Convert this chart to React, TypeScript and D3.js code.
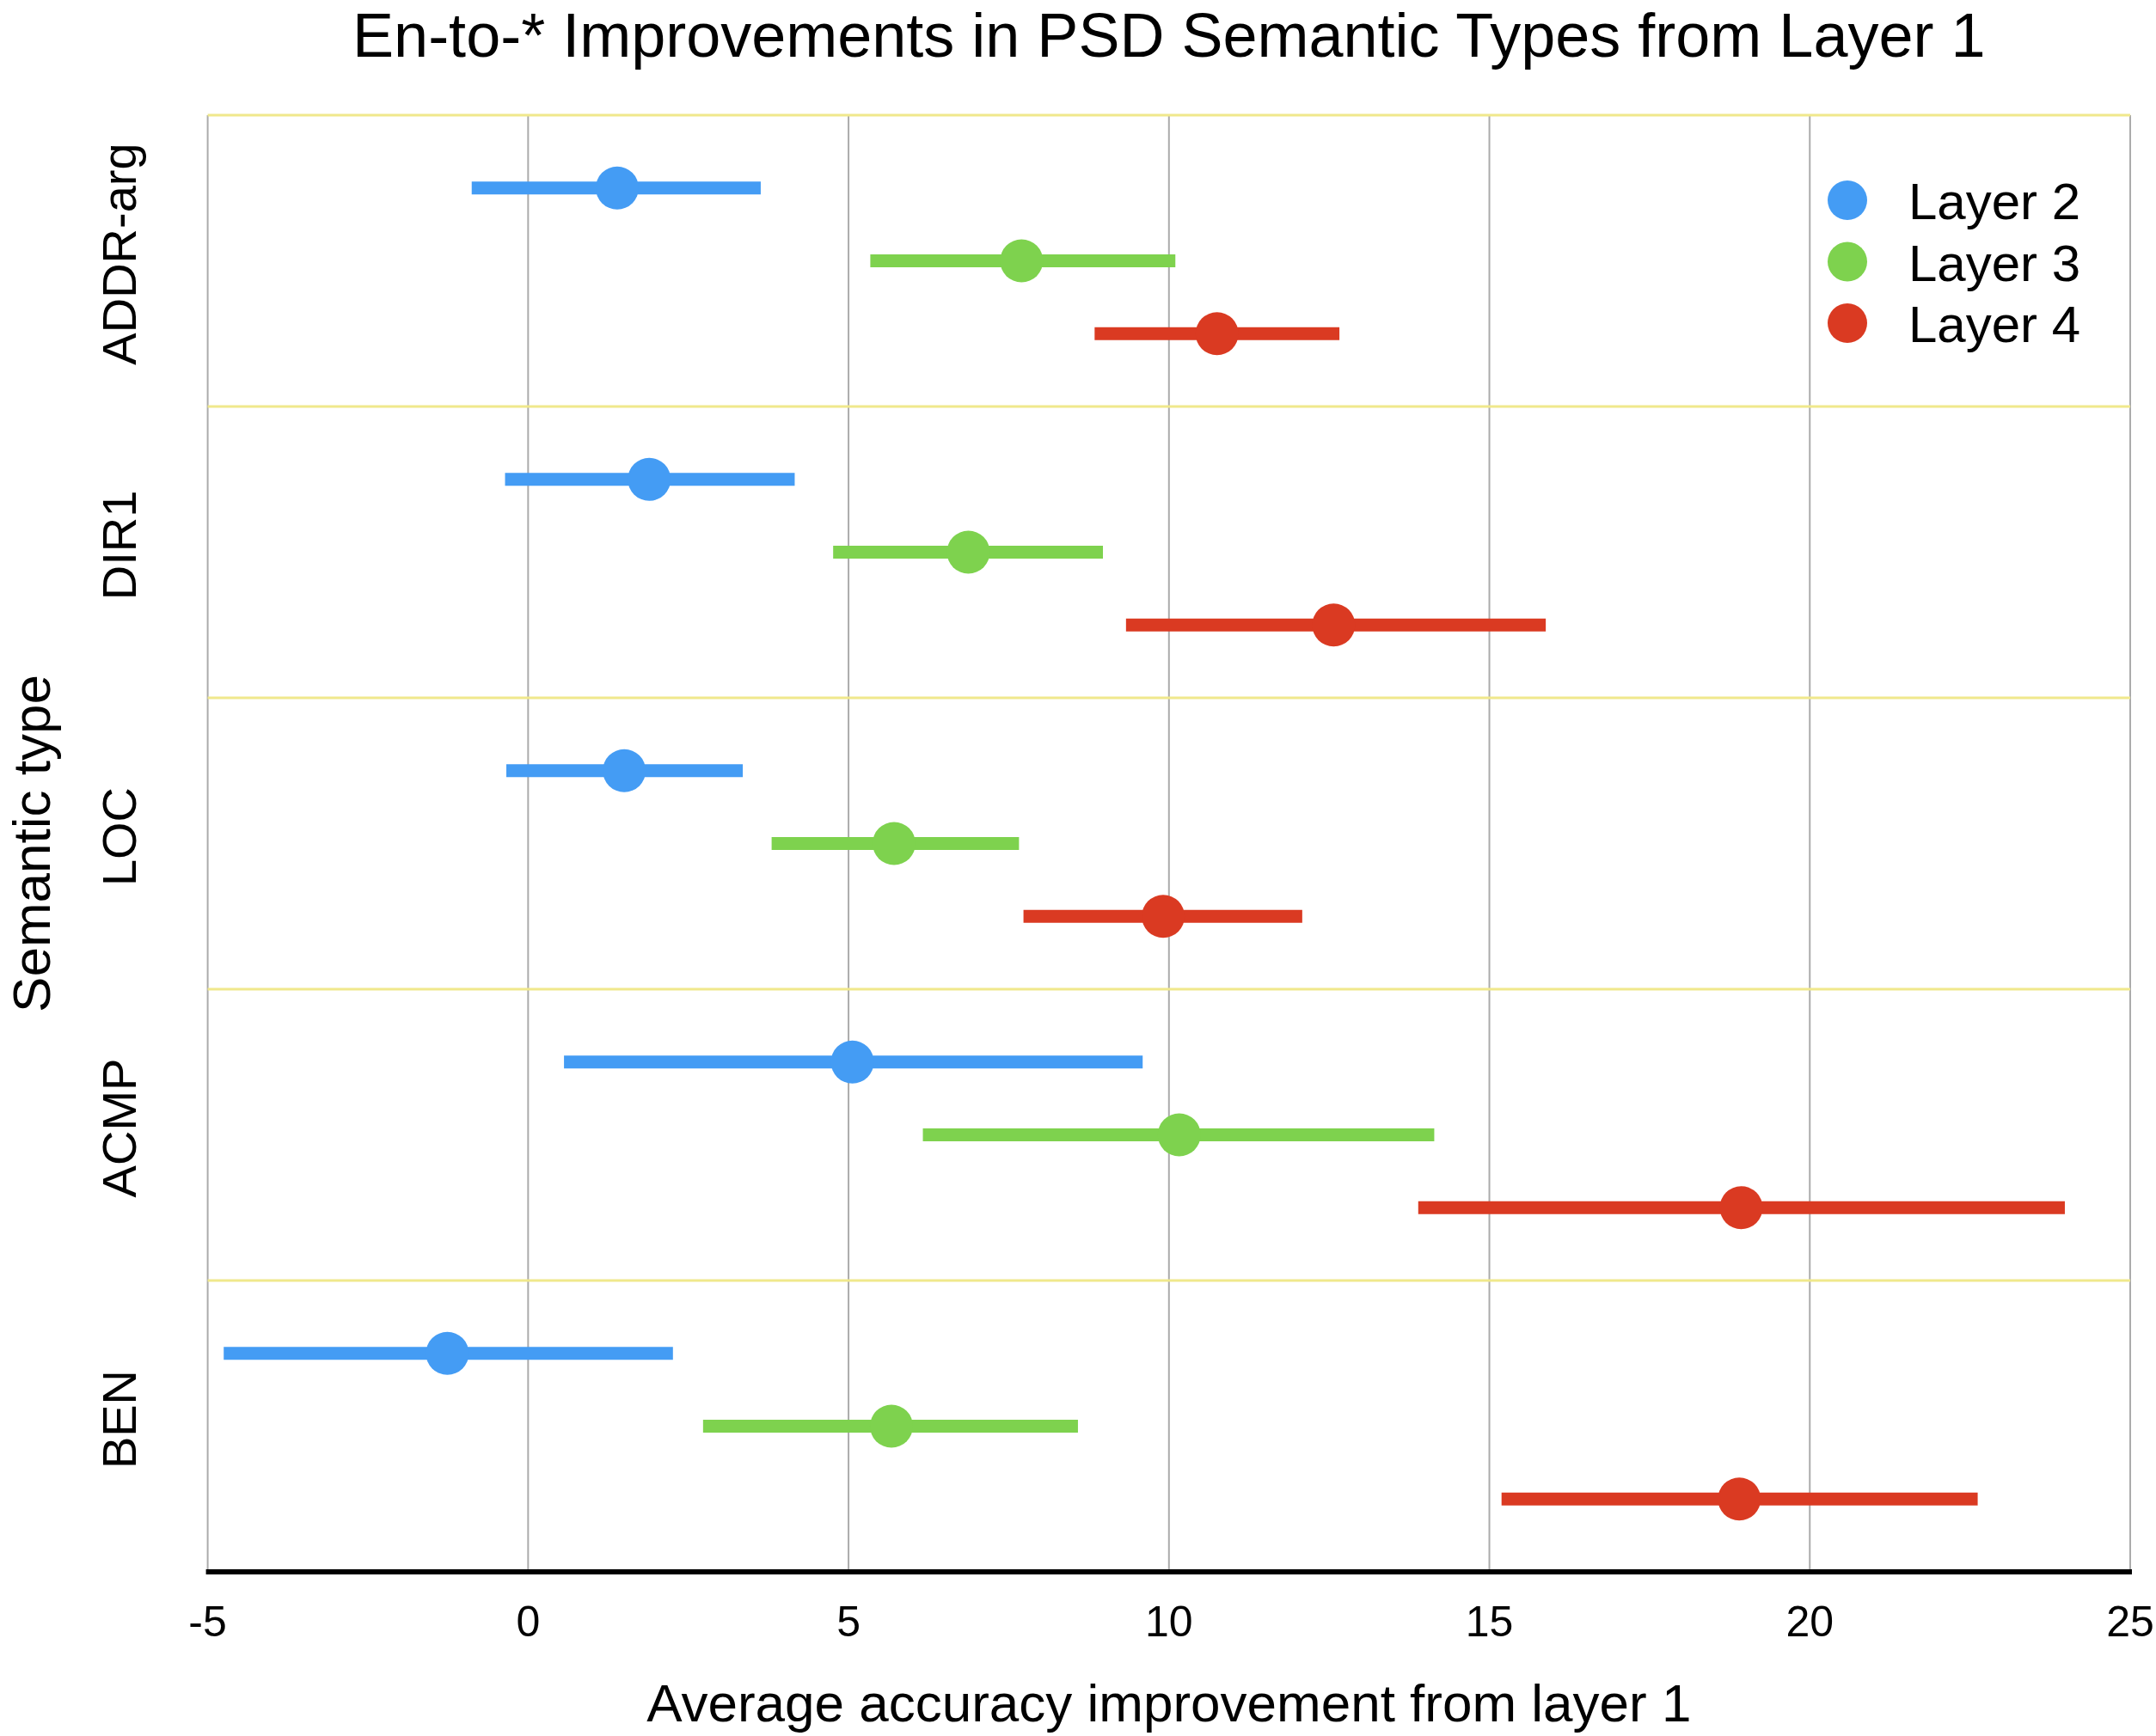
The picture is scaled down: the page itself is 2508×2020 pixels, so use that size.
import React from "react";
import * as d3 from "d3";

const title = "En-to-* Improvements in PSD Semantic Types from Layer 1";
const xAxisTitle = "Average accuracy improvement from layer 1";
const yAxisTitle = "Semantic type";
const categories = ["ADDR-arg", "DIR1", "LOC", "ACMP", "BEN"];
const seriesNames = ["Layer 2", "Layer 3", "Layer 4"];
const seriesColors = ["#449CF4", "#7ED24E", "#DA3A22"];
const xTicks = [-5, 0, 5, 10, 15, 20, 25];

// mean, low, high per category for each layer
const layer2Mean = [1.39, 1.89, 1.5, 5.06, -1.26];
const layer2Low = [-0.88, -0.36, -0.34, 0.56, -4.75];
const layer2High = [3.63, 4.16, 3.35, 9.59, 2.26];

const layer3Mean = [7.7, 6.87, 5.71, 10.16, 5.67];
const layer3Low = [5.34, 4.76, 3.8, 6.16, 2.73];
const layer3High = [10.1, 8.97, 7.66, 14.14, 8.58];

const layer4Mean = [10.75, 12.57, 9.91, 18.93, 18.9];
const layer4Low = [8.84, 9.33, 7.73, 13.89, 15.19];
const layer4High = [12.66, 15.88, 12.08, 23.98, 22.62];

const means = [layer2Mean, layer3Mean, layer4Mean];
const lows = [layer2Low, layer3Low, layer4Low];
const highs = [layer2High, layer3High, layer4High];

const W = 2508;
const H = 2020;
const FONT = "'Liberation Sans', Arial, Helvetica, sans-serif";

export default function App() {
  const left = 241.6;
  const right = 2478;
  const top = 134;
  const bottom = 1829;

  const x = d3.scaleLinear().domain([-5, 25]).range([left, right]);
  const y = d3.scaleBand<string>().domain(categories).range([top, bottom]).padding(0);
  const inner = d3.scalePoint<string>().domain(seriesNames).range([0, y.bandwidth()]).padding(1);

  const boundaries = categories.map((c) => y(c) as number);

  return (
    <svg
      width={W}
      height={H}
      style={{ position: "absolute", left: 0, top: 0, background: "#fff" }}
      fontFamily={FONT}
    >
      <rect x={0} y={0} width={W} height={H} fill="#fff" />
      {/* vertical grid */}
      {xTicks.map((t) => (
        <line key={"g" + t} x1={x(t)} x2={x(t)} y1={top} y2={bottom} stroke="#ababab" strokeWidth={2} />
      ))}
      {/* yellow band separators */}
      {boundaries.map((b, i) => (
        <line key={"b" + i} x1={left} x2={right} y1={b} y2={b} stroke="#F0E88C" strokeWidth={3} />
      ))}
      {/* x axis */}
      <line x1={left - 2} x2={right + 2} y1={bottom} y2={bottom} stroke="#000" strokeWidth={6} />
      {xTicks.map((t) => (
        <text key={"t" + t} x={x(t)} y={1904} textAnchor="middle" fontSize={50} fill="#000">
          {t}
        </text>
      ))}
      <text x={(left + right) / 2} y={2003} textAnchor="middle" fontSize={62} fill="#000">
        {xAxisTitle}
      </text>
      {/* y labels */}
      {categories.map((c) => (
        <text
          key={"c" + c}
          transform={`translate(158, ${(y(c) as number) + y.bandwidth() / 2 - 8}) rotate(-90)`}
          textAnchor="middle"
          fontSize={56}
          fill="#000"
        >
          {c}
        </text>
      ))}
      <text transform={`translate(58, ${(top + bottom) / 2}) rotate(-90)`} textAnchor="middle" fontSize={62} fill="#000">
        {yAxisTitle}
      </text>
      {/* title */}
      <text x={(left + right) / 2} y={66} textAnchor="middle" fontSize={72} fill="#000">
        {title}
      </text>
      {/* data */}
      {seriesNames.map((s, si) =>
        categories.map((c, ci) => {
          const cy = (y(c) as number) + (inner(s) as number);
          return (
            <g key={s + c}>
              <line
                x1={x(lows[si][ci])}
                x2={x(highs[si][ci])}
                y1={cy}
                y2={cy}
                stroke={seriesColors[si]}
                strokeWidth={15}
              />
              <circle cx={x(means[si][ci])} cy={cy} r={25} fill={seriesColors[si]} />
            </g>
          );
        })
      )}
      {/* legend */}
      {seriesNames.map((s, si) => {
        const cy = 233 + si * 71.5;
        return (
          <g key={"l" + s}>
            <circle cx={2149} cy={cy} r={23} fill={seriesColors[si]} />
            <text x={2220} y={cy + 22} fontSize={60} fill="#000">
              {s}
            </text>
          </g>
        );
      })}
    </svg>
  );
}
